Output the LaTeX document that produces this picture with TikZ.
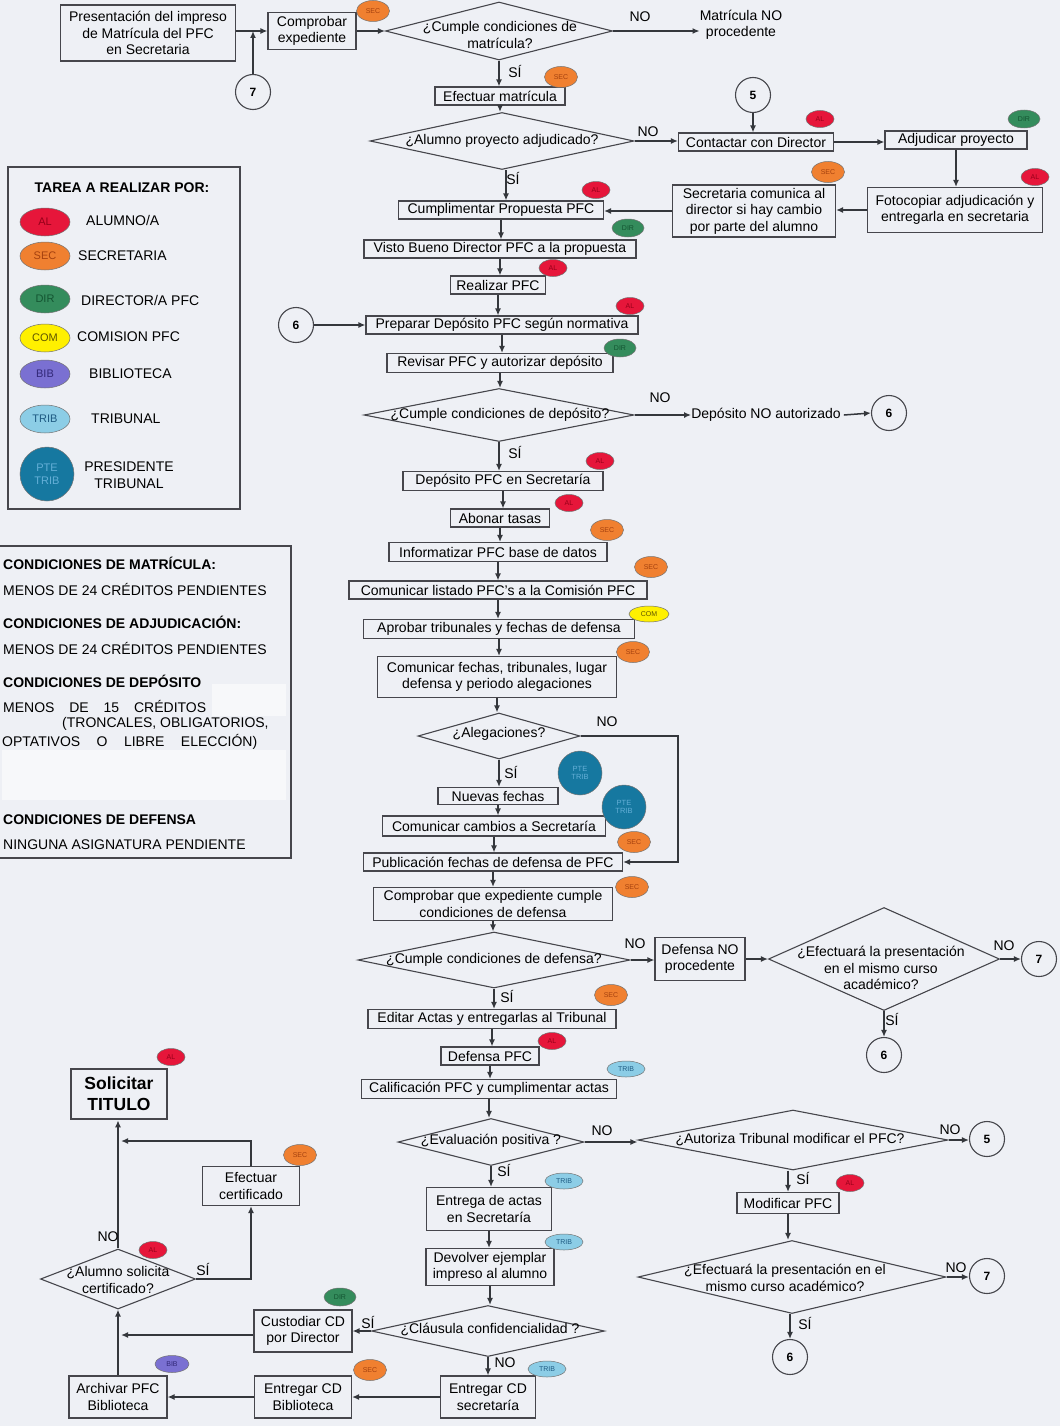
\documentclass[tikz,border=0pt]{standalone}
\usepackage{fontspec}
\setmainfont{Liberation Sans}
\usetikzlibrary{shapes.geometric,arrows.meta}
\definecolor{bg}{RGB}{238,240,245}
\definecolor{lc}{RGB}{70,70,76}
\definecolor{ac}{RGB}{52,55,60}
\definecolor{alf}{RGB}{230,22,58}\definecolor{alt}{RGB}{150,0,25}
\definecolor{secf}{RGB}{240,128,48}\definecolor{sect}{RGB}{165,65,15}
\definecolor{dirf}{RGB}{52,140,92}\definecolor{dirt}{RGB}{20,85,50}
\definecolor{comf}{RGB}{255,240,0}\definecolor{comt}{RGB}{95,85,0}
\definecolor{bibf}{RGB}{122,112,210}\definecolor{bibt}{RGB}{50,40,120}
\definecolor{tribf}{RGB}{140,205,230}\definecolor{tribt}{RGB}{30,90,130}
\definecolor{ptef}{RGB}{22,120,160}\definecolor{ptet}{RGB}{100,175,215}
\newcommand\mf{\fontsize{14}{16.5}\selectfont}
\begin{document}
\begin{tikzpicture}[x=1pt,y=-1pt,
 box/.style={draw=lc, line width=1.1pt, fill=bg, inner sep=1.5pt, align=center, font=\mf},
 dia/.style={diamond, draw=lc, line width=1.1pt, inner sep=0pt, fill=bg},
 con/.style={circle, draw=lc, line width=1.1pt, minimum size=35, inner sep=0pt, fill=bg, font=\bfseries\fontsize{12}{12}\selectfont},
 arr/.style={line width=1.5pt, draw=ac, -{Latex[length=7pt,width=6pt]}},
 lnk/.style={line width=1.5pt, draw=ac},
 lab/.style={font=\mf, inner sep=0pt, align=center},
 bd/.style={ellipse, draw=black!55, line width=0.5pt, inner sep=0pt, font=\fontsize{7}{7}\selectfont},
 bal/.style={bd, fill=alf, text=alt, minimum width=28, minimum height=17},
 bsec/.style={bd, fill=secf, text=sect, minimum width=33, minimum height=21},
 bdir/.style={bd, fill=dirf, text=dirt, minimum width=32, minimum height=18},
 bcom/.style={bd, fill=comf, text=comt, minimum width=40, minimum height=16},
 bbib/.style={bd, fill=bibf, text=bibt, minimum width=34, minimum height=17},
 btrib/.style={bd, fill=tribf, text=tribt, minimum width=38, minimum height=16},
 bpte/.style={circle, draw=black!55, line width=0.5pt, fill=ptef, text=ptet, minimum size=44, inner sep=0pt, align=center, font=\fontsize{7.5}{8}\selectfont},
 leg/.style={minimum width=50, minimum height=28, font=\fontsize{11}{11}\selectfont},
 lt/.style={font=\mf, inner sep=0pt, anchor=west, align=left},
]
\fill[bg] (0,0) rectangle (1060,1426);
\useasboundingbox (0,0) rectangle (1060,1426);

% ---------- legend 1 ----------
\node[draw=lc, line width=1.1pt, minimum width=232, minimum height=342, inner sep=0pt] (L1) at (124,338) {};
\node[lab, font=\bfseries\mf] (L1t) at (122,188) {TAREA A REALIZAR POR:};
\node[bal,leg] (Lal) at (45,222) {AL};
\node[lt] (Lalt) at (86,220) {ALUMNO/A};
\node[bsec,leg] (Lsec) at (45,256) {SEC};
\node[lt] (Lsect) at (78,256) {SECRETARIA};
\node[bdir,leg] (Ldir) at (45,299) {DIR};
\node[lt] (Ldirt) at (81,300) {DIRECTOR/A PFC};
\node[bcom,leg] (Lcom) at (45,338) {COM};
\node[lt] (Lcomt) at (77,337) {COMISION PFC};
\node[bbib,leg] (Lbib) at (45,374) {BIB};
\node[lt] (Lbibt) at (89,374) {BIBLIOTECA};
\node[btrib,leg] (Ltrib) at (45,419) {TRIB};
\node[lt] (Ltribt) at (91,419) {TRIBUNAL};
\node[bpte, minimum size=54, font=\fontsize{11}{13}\selectfont] (Lpte) at (47,474) {PTE\\TRIB};
\node[lab] (Lptet) at (129,475) {PRESIDENTE\\TRIBUNAL};

% ---------- legend 2 ----------
\fill[white, opacity=0.55] (212,684) rectangle (286,716);
\fill[white, opacity=0.55] (2,750) rectangle (286,800);
\node[draw=lc, line width=1.1pt, minimum width=294, minimum height=312, inner sep=0pt] (L2) at (144,702) {};
\node[lt, font=\bfseries\mf] (c1) at (3,563) {CONDICIONES DE MATRÍCULA:};
\node[lt] (c2) at (3,589) {MENOS DE 24 CRÉDITOS PENDIENTES};
\node[lt, font=\bfseries\mf] (c3) at (3,622) {CONDICIONES DE ADJUDICACIÓN:};
\node[lt] (c4) at (3,648) {MENOS DE 24 CRÉDITOS PENDIENTES};
\node[lt, font=\bfseries\mf] (c5) at (3,681) {CONDICIONES DE DEPÓSITO};
\node[lt] (c6) at (3,706) {\makebox[203pt][s]{MENOS DE 15 CRÉDITOS}};
\node[lt] (c7) at (62,724) {(TRONCALES, OBLIGATORIOS,};
\node[lt] (c8) at (2,742) {\makebox[255pt][s]{OPTATIVOS O LIBRE ELECCIÓN)}};
\node[lt, font=\bfseries\mf] (c9) at (3,820) {CONDICIONES DE DEFENSA};
\node[lt] (c10) at (3,845) {NINGUNA ASIGNATURA PENDIENTE};

% ---------- top ----------
\node[box,minimum width=175,minimum height=56] (n1) at (148,33) {Presentación del impreso\\de Matrícula del PFC\\en Secretaria};
\node[box,minimum width=88,minimum height=37] (n2) at (312,31) {Comprobar\\expediente};
\node[con] (c7a) at (253,92) {7};
\node[dia,minimum width=227,minimum height=58] (d1) at (499,31) {};
\node[lab] (d1t) at (500,35) {¿Cumple condiciones de\\matrícula?};
\node[lab] (m1) at (741,25) {Matrícula NO\\procedente};
\node[box,minimum width=130,minimum height=18] (n3) at (500,96) {Efectuar matrícula};
\node[dia,minimum width=264,minimum height=57] (d2) at (502,141) {};
\node[lab] (d2t) at (502,141) {¿Alumno proyecto adjudicado?};
\node[con] (c5a) at (753,95) {5};
\node[box,minimum width=155,minimum height=18] (n4) at (756,142) {Contactar con Director};
\node[box,minimum width=142,minimum height=18] (n5) at (956,140) {Adjudicar proyecto};
\node[box,minimum width=175,minimum height=45] (n6) at (955,210) {Fotocopiar adjudicación y\\entregarla en secretaria};
\node[box,minimum width=163,minimum height=52] (n7) at (754,211) {Secretaria comunica al\\director si hay cambio\\por parte del alumno};
\node[box,minimum width=205,minimum height=18] (n8) at (501,210) {Cumplimentar Propuesta PFC};
\node[box,minimum width=272,minimum height=18] (n9) at (500,249) {Visto Bueno Director PFC a la propuesta};
\node[box,minimum width=95,minimum height=18] (n10) at (498,285) {Realizar PFC};
\node[con] (c6a) at (296,325) {6};
\node[box,minimum width=272,minimum height=18] (n11) at (502,325) {Preparar Depósito PFC según normativa};
\node[box,minimum width=226,minimum height=19] (n12) at (500,363) {Revisar PFC y autorizar depósito};
\node[dia,minimum width=270,minimum height=53] (d3) at (499,415) {};
\node[lab] (d3t) at (500,415) {¿Cumple condiciones de depósito?};
\node[lab] (t3) at (766,415) {Depósito NO autorizado};
\node[con] (c6b) at (889,413) {6};
\node[box,minimum width=200,minimum height=19] (n13) at (503,481) {Depósito PFC en Secretaría};
\node[box,minimum width=99,minimum height=18] (n14) at (500,518) {Abonar tasas};
\node[box,minimum width=218,minimum height=19] (n15) at (498,552) {Informatizar PFC base de datos};
\node[box,minimum width=298,minimum height=18] (n16) at (498,590) {Comunicar listado PFC’s a la Comisión PFC};
\node[box,minimum width=271,minimum height=19] (n17) at (499,629) {Aprobar tribunales y fechas de defensa};
\node[box,minimum width=239,minimum height=41] (n18) at (497,677) {Comunicar fechas, tribunales, lugar\\defensa y periodo alegaciones};
\node[dia,minimum width=162,minimum height=46] (d4) at (499,736) {};
\node[lab] (d4t) at (499,734) {¿Alegaciones?};
\node[box,minimum width=120,minimum height=17] (n19) at (498,796) {Nuevas fechas};
\node[box,minimum width=223,minimum height=20] (n20) at (494,826) {Comunicar cambios a Secretaría};
\node[box,minimum width=259,minimum height=18] (n21) at (493,862) {Publicación fechas de defensa de PFC};
\node[box,minimum width=239,minimum height=33] (n22) at (493,904) {Comprobar que expediente cumple\\condiciones de defensa};
\node[dia,minimum width=272,minimum height=56] (d5) at (494,960) {};
\node[lab] (d5t) at (494,960) {¿Cumple condiciones de defensa?};
\node[box,minimum width=90,minimum height=43] (n23) at (700,959) {Defensa NO\\procedente};
\node[dia,minimum width=231,minimum height=103] (d6) at (884,959) {};
\node[lab] (d6t) at (881,968) {¿Efectuará la presentación\\en el mismo curso\\académico?};
\node[con] (c7b) at (1039,959) {7};
\node[con] (c6c) at (884,1055) {6};
\node[box,minimum width=248,minimum height=19] (n24) at (492,1019) {Editar Actas y entregarlas al Tribunal};
\node[box,minimum width=98,minimum height=18] (n25) at (490,1056) {Defensa PFC};
\node[box,minimum width=255,minimum height=19] (n26) at (489,1089) {Calificación PFC y cumplimentar actas};
\node[dia,minimum width=186,minimum height=47] (d7) at (491,1142) {};
\node[lab] (d7t) at (491,1141) {¿Evaluación positiva ?};
\node[dia,minimum width=310,minimum height=60] (d8) at (793,1140) {};
\node[lab] (d8t) at (790,1140) {¿Autoriza Tribunal modificar el PFC?};
\node[con] (c5b) at (987,1139) {5};
\node[box,minimum width=102,minimum height=21] (n27) at (788,1203) {Modificar PFC};
\node[dia,minimum width=308,minimum height=73] (d9) at (792,1277) {};
\node[lab] (d9t) at (785,1278) {¿Efectuará la presentación en el\\mismo curso académico?};
\node[con] (c7c) at (987,1276) {7};
\node[con] (c6d) at (790,1357) {6};
\node[box,minimum width=125,minimum height=43] (n28) at (489,1209) {Entrega de actas\\en Secretaría};
\node[box,minimum width=128,minimum height=37] (n29) at (490,1267) {Devolver ejemplar\\impreso al alumno};
\node[dia,minimum width=233,minimum height=51] (d10) at (488,1331) {};
\node[lab] (d10t) at (490,1330) {¿Cláusula confidencialidad ?};
\node[box,minimum width=95,minimum height=42] (n31) at (488,1397) {Entregar CD\\secretaría};
\node[box,minimum width=98,minimum height=42] (n30) at (303,1331) {Custodiar CD\\por Director};
\node[box,minimum width=97,minimum height=42] (n32) at (303,1397) {Entregar CD\\Biblioteca};
\node[box,minimum width=98,minimum height=42] (n33) at (118,1397) {Archivar PFC\\Biblioteca};
\node[dia,minimum width=155,minimum height=60] (d11) at (118,1279) {};
\node[lab] (d11t) at (118,1280) {¿Alumno solicita\\certificado?};
\node[box,minimum width=97,minimum height=39] (n34) at (251,1186) {Efectuar\\certificado};
\node[box,line width=2.6pt,minimum width=96,minimum height=50,font=\bfseries\fontsize{17.5}{21}\selectfont] (n35) at (119,1094) {Solicitar\\TITULO};
\coordinate (j1) at (121,1141);
\coordinate (j2) at (121,1327);
\coordinate (k4) at (678,736);

% ---------- connectors ----------
\draw[arr] (n1.east |- n2.west) -- (n2.west);
\draw[arr] (c7a.north) -- (c7a.north |- n2.west);
\draw[arr] (n2.east) -- (d1.west);
\draw[arr] (d1.east) -- (d1.east -| m1.west);
\draw[arr] (d1.south) -- (d1.south |- n3.north);
\draw[arr] (n3.south) -- (n3.south |- d2.north);
\draw[arr] (d2.east) -- (d2.east -| n4.west);
\draw[arr] (c5a.south) -- (c5a.south |- n4.north);
\draw[arr] (n4.east) -- (n4.east -| n5.west);
\draw[arr] (n5.south) -- (n5.south |- n6.north);
\draw[arr] (n6.west) -- (n6.west -| n7.east);
\draw[arr] (n7.west) -- (n7.west -| n8.east);
\draw[arr] ([xshift=4]d2.south) -- ([xshift=4]d2.south |- n8.north);
\draw[arr] (n8.south) -- (n8.south |- n9.north);
\draw[arr] (n9.south) -- (n9.south |- n10.north);
\draw[arr] (n10.south) -- (n10.south |- n11.north);
\draw[arr] (c6a.east) -- (c6a.east -| n11.west);
\draw[arr] (n11.south) -- (n11.south |- n12.north);
\draw[arr] (n12.south) -- (n12.south |- d3.north);
\draw[arr] (d3.east) -- (d3.east -| t3.west);
\draw[arr] ([xshift=3]t3.east) -- (c6b.west);
\draw[arr] (d3.south) -- (d3.south |- n13.north);
\draw[arr] (n13.south) -- (n13.south |- n14.north);
\draw[arr] (n14.south) -- (n14.south |- n15.north);
\draw[arr] (n15.south) -- (n15.south |- n16.north);
\draw[arr] (n16.south) -- (n16.south |- n17.north);
\draw[arr] (n17.south) -- (n17.south |- n18.north);
\draw[arr] (n18.south) -- (n18.south |- d4.north);
\draw[arr] (d4.south) -- (d4.south |- n19.north);
\draw[arr] (n19.south) -- (n19.south |- n20.north);
\draw[arr] (n20.south) -- (n20.south |- n21.north);
\draw[arr] (n21.south) -- (n21.south |- n22.north);
\draw[arr] (n22.south) -- (n22.south |- d5.north);
\draw[arr] (d4.east) -- (k4) -- (k4 |- n21.east) -- (n21.east);
\draw[arr] (d5.east) -- (d5.east -| n23.west);
\draw[arr] (n23.east) -- (n23.east -| d6.west);
\draw[arr] (d6.east) -- (d6.east -| c7b.west);
\draw[arr] (d6.south) -- (c6c.north);
\draw[arr] (d5.south) -- (d5.south |- n24.north);
\draw[arr] (n24.south) -- (n24.south |- n25.north);
\draw[arr] (n25.south) -- (n25.south |- n26.north);
\draw[arr] (n26.south) -- (n26.south |- d7.north);
\draw[arr] (d7.east) -- (d7.east -| d8.west);
\draw[arr] (d8.east) -- (d8.east -| c5b.west);
\draw[arr] (n27.north |- d8.south) -- (n27.north);
\draw[arr] (n27.south) -- (n27.south |- d9.north);
\draw[arr] (d9.east) -- (d9.east -| c7c.west);
\draw[arr] (c6d.north |- d9.south) -- (c6d.north);
\draw[arr] (d7.south) -- (d7.south |- n28.north);
\draw[arr] (n28.south) -- (n28.south |- n29.north);
\draw[arr] (n29.south) -- (n29.south |- d10.north);
\draw[arr] (d10.west) -- (d10.west -| n30.east);
\draw[arr] (d10.south) -- (d10.south |- n31.north);
\draw[arr] (n31.west) -- (n31.west -| n32.east);
\draw[arr] (n32.west) -- (n32.west -| n33.east);
\draw[arr] (n33.north) -- (n33.north |- d11.south);
\draw[arr] ([yshift=-4]n30.west) -- ([yshift=-4]n30.west -| j2);
\draw[arr] (d11.north) -- (d11.north |- n35.south);
\draw[arr] (d11.east) -- (d11.east -| n34.south) -- (n34.south);
\draw[arr] (n34.north) |- (j1);

% ---------- yes/no labels ----------
\node[lab] (y1) at (640,17) {NO};
\node[lab] (y2) at (515,71) {SÍ};
\node[lab] (y3) at (648,132) {NO};
\node[lab] (y4) at (513,178) {SÍ};
\node[lab] (y5) at (660,398) {NO};
\node[lab] (y6) at (515,452) {SÍ};
\node[lab] (y7) at (607,722) {NO};
\node[lab] (y8) at (511,772) {SÍ};
\node[lab] (y9) at (635,944) {NO};
\node[lab] (y10) at (507,996) {SÍ};
\node[lab] (y11) at (1004,946) {NO};
\node[lab] (y12) at (892,1019) {SÍ};
\node[lab] (y13) at (602,1131) {NO};
\node[lab] (y14) at (504,1170) {SÍ};
\node[lab] (y15) at (950,1130) {NO};
\node[lab] (y16) at (803,1178) {SÍ};
\node[lab] (y17) at (956,1268) {NO};
\node[lab] (y18) at (805,1323) {SÍ};
\node[lab] (y19) at (368,1322) {SÍ};
\node[lab] (y20) at (505,1363) {NO};
\node[lab] (y21) at (108,1237) {NO};
\node[lab] (y22) at (203,1269) {SÍ};

% ---------- badges ----------
\node[bsec] (b1) at (373,11) {SEC};
\node[bsec] (b2) at (561,77) {SEC};
\node[bal] (b3) at (820,119) {AL};
\node[bdir] (b4) at (1024,119) {DIR};
\node[bal] (b5) at (1035,177) {AL};
\node[bsec] (b6) at (828,172) {SEC};
\node[bal] (b7) at (596,190) {AL};
\node[bdir] (b8) at (628,228) {DIR};
\node[bal] (b9) at (553,268) {AL};
\node[bal] (b10) at (630,306) {AL};
\node[bdir] (b11) at (620,348) {DIR};
\node[bal] (b12) at (600,461) {AL};
\node[bal] (b13) at (569,503) {AL};
\node[bsec] (b14) at (607,530) {SEC};
\node[bsec] (b15) at (651,567) {SEC};
\node[bcom] (b16) at (649,614) {COM};
\node[bsec] (b17) at (633,652) {SEC};
\node[bpte] (b18) at (580,773) {PTE\\TRIB};
\node[bpte] (b19) at (624,807) {PTE\\TRIB};
\node[bsec] (b20) at (634,842) {SEC};
\node[bsec] (b21) at (632,887) {SEC};
\node[bsec] (b22) at (611,995) {SEC};
\node[bal] (b23) at (552,1041) {AL};
\node[btrib] (b24) at (626,1069) {TRIB};
\node[btrib] (b25) at (564,1181) {TRIB};
\node[btrib] (b26) at (564,1242) {TRIB};
\node[bal] (b27) at (850,1183) {AL};
\node[bdir] (b28) at (340,1297) {DIR};
\node[bsec] (b29) at (370,1370) {SEC};
\node[btrib] (b30) at (547,1369) {TRIB};
\node[bbib] (b31) at (172,1364) {BIB};
\node[bal] (b32) at (153,1250) {AL};
\node[bsec] (b33) at (300,1155) {SEC};
\node[bal] (b34) at (171,1057) {AL};
\end{tikzpicture}
\end{document}
